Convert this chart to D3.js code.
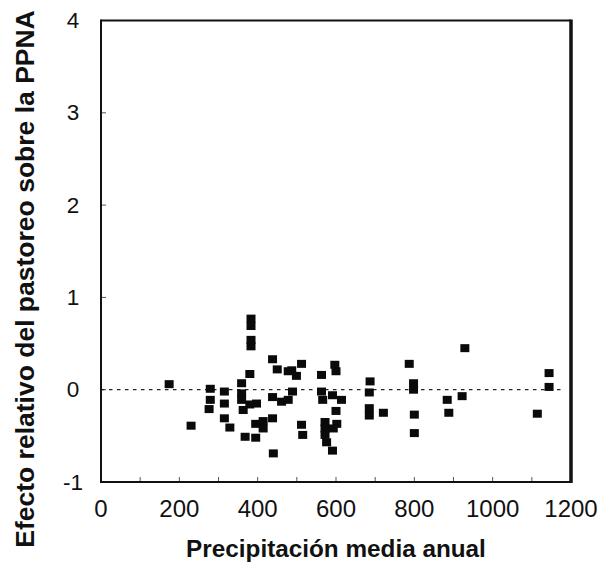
<!DOCTYPE html>
<html>
<head>
<meta charset="utf-8">
<script src="https://cdn.jsdelivr.net/npm/d3@7"></script>
<style>
  html, body { margin: 0; padding: 0; background: #fff; }
  svg { display: block; }
  text { font-family: "Liberation Sans", Arial, Helvetica, sans-serif; fill: #111; }
</style>
</head>
<body>
<svg id="chart" width="600" height="566"></svg>
<script>
// Data: precipitation (mm) and relative grazing effect on ANPP
const precip = [174, 230, 279, 279, 276, 315, 315, 315, 329, 359, 380, 383, 383, 383, 383,
  359, 359, 363, 380, 397, 368, 395, 395, 414, 414, 438, 450, 478, 438, 461, 478, 489,
  499, 487, 512, 438, 440, 512, 515, 563, 597, 600, 563, 566, 591, 614, 600, 572, 572,
  572, 576, 591, 602, 593, 687, 685, 685, 685, 721, 787, 798, 798, 800, 800, 884, 888,
  922, 929, 1144, 1144, 1114];
const effect = [0.06, -0.39, 0.01, -0.11, -0.21, -0.02, -0.15, -0.31, -0.41, 0.07, 0.17, 0.77, 0.69, 0.54, 0.47,
  -0.04, -0.11, -0.22, -0.16, -0.15, -0.51, -0.52, -0.37, -0.34, -0.42, 0.33, 0.22, 0.20, -0.08, -0.13, -0.11, -0.02,
  0.15, 0.21, 0.28, -0.31, -0.69, -0.38, -0.49, 0.16, 0.27, 0.20, -0.02, -0.11, -0.06, -0.11, -0.23, -0.35, -0.42,
  -0.49, -0.57, -0.66, -0.37, -0.42, 0.09, -0.03, -0.20, -0.28, -0.25, 0.28, 0.07, 0.00, -0.27, -0.47, -0.11, -0.25,
  -0.07, 0.45, 0.18, 0.03, -0.26];
const xTickLabels = [0, 200, 400, 600, 800, 1000, 1200];
const xMinorTicks = [100, 200, 300, 400, 500, 600, 700, 800, 900, 1000, 1100];
const yTickLabels = [-1, 0, 1, 2, 3, 4];
const xTitle = "Precipitación media anual";
const yTitle = "Efecto relativo del pastoreo sobre la PPNA";

const svg = d3.select("#chart");
const x = d3.scaleLinear().domain([0, 1200]).range([101, 571]);
const y = d3.scaleLinear().domain([-1, 4]).range([482, 20.5]);

// Minor inward ticks on bottom axis
svg.append("g").selectAll("line").data(xMinorTicks).join("line")
  .attr("x1", d => x(d)).attr("x2", d => x(d))
  .attr("y1", y(-1)).attr("y2", y(-1) - 5)
  .attr("stroke", "#555").attr("stroke-width", 1);

// Inward ticks on left axis
svg.append("g").selectAll("line").data(yTickLabels).join("line")
  .attr("x1", x(0)).attr("x2", x(0) + 5)
  .attr("y1", d => y(d)).attr("y2", d => y(d))
  .attr("stroke", "#555").attr("stroke-width", 1);

// Zero reference dashed line
svg.append("line")
  .attr("x1", x(0)).attr("x2", x(1180))
  .attr("y1", y(0)).attr("y2", y(0))
  .attr("stroke", "#222").attr("stroke-width", 1.3)
  .attr("stroke-dasharray", "3.5,4.5");

// Frame
const fr = svg.append("g").attr("stroke", "#111").attr("fill", "none");
fr.append("line").attr("x1", x(0)).attr("x2", x(1200)).attr("y1", y(4)).attr("y2", y(4)).attr("stroke-width", 1.8);
fr.append("line").attr("x1", x(0)).attr("x2", x(1200)).attr("y1", y(-1)).attr("y2", y(-1)).attr("stroke-width", 2.2);
fr.append("line").attr("x1", x(0)).attr("x2", x(0)).attr("y1", y(4) - 1).attr("y2", y(-1) + 1).attr("stroke-width", 2);
fr.append("line").attr("x1", x(1200)).attr("x2", x(1200)).attr("y1", y(4) - 1).attr("y2", y(-1) + 1).attr("stroke-width", 3.5);

// Points
const pts = precip.map((p, i) => ({ p, e: effect[i] }));
svg.append("g").selectAll("rect").data(pts).join("rect")
  .attr("x", d => x(d.p) - 4.5).attr("y", d => y(d.e) - 4)
  .attr("width", 9).attr("height", 8)
  .attr("fill", "#0a0a0a");

// X tick labels
svg.append("g").selectAll("text").data(xTickLabels).join("text")
  .attr("x", d => x(d)).attr("y", 517)
  .attr("text-anchor", "middle").attr("font-size", 24)
  .text(d => d);

// Y tick labels
svg.append("g").selectAll("text").data(yTickLabels).join("text")
  .attr("x", 73).attr("y", d => y(d))
  .attr("text-anchor", "middle").attr("dominant-baseline", "central").attr("font-size", 22.5)
  .text(d => d);

// Axis titles
svg.append("text")
  .attr("x", 336).attr("y", 557)
  .attr("text-anchor", "middle").attr("font-size", 24.3).attr("font-weight", "bold")
  .text(xTitle);

svg.append("text")
  .attr("transform", "translate(34,279) rotate(-90)")
  .attr("text-anchor", "middle").attr("font-size", 26.5).attr("font-weight", "bold")
  .text(yTitle);
</script>
</body>
</html>
